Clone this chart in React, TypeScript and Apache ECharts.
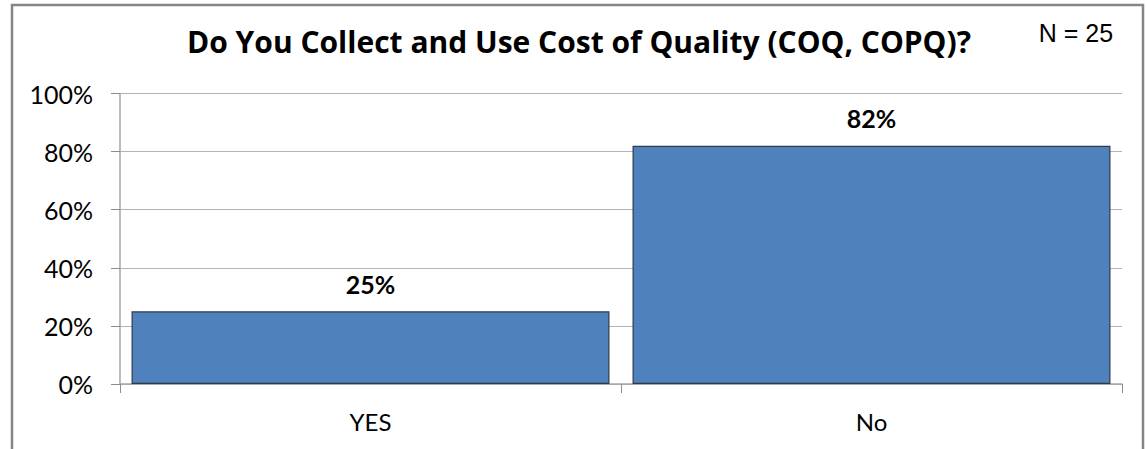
import React, { useEffect, useRef } from "react";
import * as echarts from "echarts";

const categories = ["YES", "No"];
const values = [25, 82];
const yTicks = [0, 20, 40, 60, 80, 100];
const titleText = "Do You Collect and Use Cost of Quality (COQ, COPQ)?";
const noteText = "N = 25";

export default function App() {
  const ref = useRef<HTMLDivElement>(null);
  useEffect(() => {
    document.body.style.margin = "0";
    const chart = echarts.init(ref.current!, undefined, { renderer: "svg" });
    chart.setOption({
      animation: false,
      backgroundColor: "#ffffff",
      title: {
        text: titleText,
        left: 574,
        top: 21,
        textAlign: "center",
        textStyle: { fontFamily: "Open Sans", fontWeight: "bold", fontSize: 30, color: "#000" },
      },
      graphic: [
        {
          type: "rect",
          shape: { x: 12, y: 5, width: 1131, height: 470 },
          style: { fill: "none", stroke: "#868686", lineWidth: 2.5 },
          silent: true,
        },
        {
          type: "text",
          x: 1076,
          y: 33,
          style: {
            text: noteText,
            fontFamily: "Liberation Sans",
            fontSize: 25,
            fill: "#000",
            align: "center",
            verticalAlign: "middle",
          },
        },
      ],
      grid: { left: 120, right: 25, top: 93.5, bottom: 65, containLabel: false },
      xAxis: {
        type: "category",
        data: categories,
        axisLine: { lineStyle: { color: "#a6a6a6", width: 1.5 } },
        axisTick: { show: true, length: 9, lineStyle: { color: "#8c8c8c" } },
        axisLabel: { fontFamily: "Lato", fontSize: 24, color: "#000", margin: 25 },
      },
      yAxis: {
        type: "value",
        min: 0,
        max: 100,
        interval: 20,
        axisLine: { show: true, lineStyle: { color: "#a6a6a6", width: 1.5 } },
        axisTick: { show: true, length: 9, lineStyle: { color: "#8c8c8c" } },
        splitLine: { lineStyle: { color: "#b3b3b3", width: 1.2 } },
        axisLabel: {
          fontFamily: "Lato",
          fontSize: 25,
          color: "#000",
          margin: 27,
          formatter: (v: number) => (yTicks.includes(v) ? v + "%" : ""),
        },
      },
      series: [
        {
          type: "bar",
          data: values,
          barCategoryGap: "4.6%",
          itemStyle: { color: "#4F81BD", borderColor: "#2e3a4a", borderWidth: 1.2 },
          label: {
            show: true,
            position: "top",
            distance: 15,
            formatter: "{c}%",
            fontFamily: "Lato",
            fontWeight: "bold",
            fontSize: 25,
            color: "#000",
          },
        },
      ],
    });
    return () => chart.dispose();
  }, []);
  return <div ref={ref} style={{ width: 1147, height: 449 }} />;
}
